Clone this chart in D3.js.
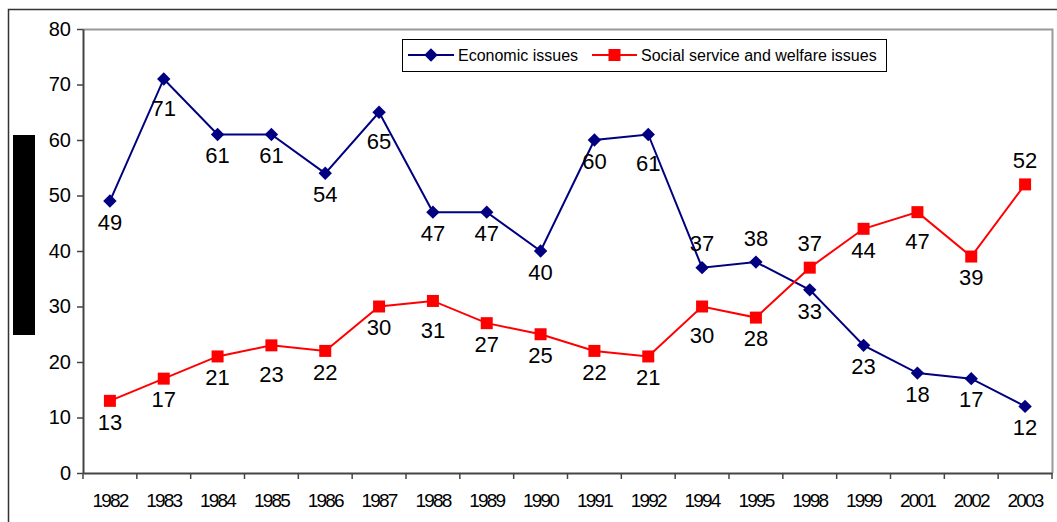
<!DOCTYPE html>
<html>
<head>
<meta charset="utf-8">
<script src="https://cdn.jsdelivr.net/npm/d3@7"></script>
<style>
  body { margin: 0; background: #fff; }
  svg { display: block; font-family: "Liberation Sans", Arial, sans-serif; }
</style>
</head>
<body>
<div id="chart"></div>
<script>
// data
var years = ["1982","1983","1984","1985","1986","1987","1988","1989","1990",
             "1991","1992","1994","1995","1998","1999","2001","2002","2003"];
var economic = [49,71,61,61,54,65,47,47,40,60,61,37,38,33,23,18,17,12];
var social   = [13,17,21,23,22,30,31,27,25,22,21,30,28,37,44,47,39,52];
// where each data label sits: "b" below the point, "a" above
var economicLabelPos = ["b","b","b","b","b","b","b","b","b","b","b","a","a","b","b","b","b","b"];
var socialLabelPos   = ["b","b","b","b","b","b","b","b","b","b","b","b","b","a","b","b","b","a"];
var yTicks = [0,10,20,30,40,50,60,70,80];

var width = 1057, height = 522;
var plot = {left: 83, right: 1052, top: 29, bottom: 473};

var svg = d3.select("#chart").append("svg")
    .attr("width", width)
    .attr("height", height);

// outer frame (left + top)
svg.append("path")
    .attr("d", "M8.5," + height + "V9.5H" + width)
    .attr("fill", "none")
    .attr("stroke", "#333")
    .attr("stroke-width", 1.5);

// black block on the left
svg.append("rect")
    .attr("x", 13).attr("y", 135)
    .attr("width", 22).attr("height", 200)
    .attr("fill", "#000");

var x = d3.scaleBand()
    .domain(years)
    .range([plot.left, plot.right]);

var y = d3.scaleLinear()
    .domain([0, 80])
    .range([plot.bottom, plot.top]);

// plot area border (top + right, gray)
svg.append("path")
    .attr("d", "M" + plot.left + "," + (plot.top + 0.5) + "H" + (plot.right + 0.5) + "V" + plot.bottom)
    .attr("fill", "none")
    .attr("stroke", "#999")
    .attr("stroke-width", 2);

// y axis
var yAxis = svg.append("g")
    .attr("transform", "translate(" + plot.left + ",0)")
    .call(d3.axisLeft(y).tickValues(yTicks).tickSize(6).tickPadding(6).tickSizeOuter(0));
yAxis.selectAll("text")
    .attr("font-size", "20px")
    .attr("font-family", "Liberation Sans, Arial, sans-serif")
    .attr("fill", "#000");

// x axis
var xAxis = svg.append("g")
    .attr("transform", "translate(0," + plot.bottom + ")")
    .call(d3.axisBottom(x).tickSize(0).tickPadding(21));
xAxis.selectAll("text")
    .attr("font-size", "19px")
    .attr("letter-spacing", "-1.8px")
    .attr("font-family", "Liberation Sans, Arial, sans-serif")
    .attr("fill", "#000");
// category boundary ticks
xAxis.selectAll(".bound")
    .data(years.concat(["end"]))
    .enter().append("line")
    .attr("class", "bound")
    .attr("x1", function(d, i) { return plot.left + i * x.step(); })
    .attr("x2", function(d, i) { return plot.left + i * x.step(); })
    .attr("y1", 0).attr("y2", 6)
    .attr("stroke", "#444").attr("stroke-width", 1.5);

svg.selectAll(".domain").attr("stroke", "#444").attr("stroke-width", 2);
yAxis.selectAll(".tick line").attr("stroke", "#444").attr("stroke-width", 1.5);

function cx(d, i) { return x(years[i]) + x.bandwidth() / 2; }

var line = d3.line()
    .x(function(d, i) { return cx(d, i); })
    .y(function(d) { return y(d); });

function drawSeries(values, color, symbolType, symbolSize, angle, labelPos) {
    svg.append("path")
        .datum(values)
        .attr("d", line)
        .attr("fill", "none")
        .attr("stroke", color)
        .attr("stroke-width", 2);

    svg.selectAll(null)
        .data(values)
        .enter().append("path")
        .attr("d", d3.symbol().type(symbolType).size(symbolSize))
        .attr("transform", function(d, i) {
            return "translate(" + cx(d, i) + "," + y(d) + ") rotate(" + angle + ")";
        })
        .attr("fill", color);

    svg.selectAll(null)
        .data(values)
        .enter().append("text")
        .attr("x", function(d, i) { return cx(d, i); })
        .attr("y", function(d, i) {
            if (labelPos[i] == "a") return y(d) - 24;
            var peak = i > 0 && i < values.length - 1 && values[i - 1] < d && values[i + 1] < d;
            return y(d) + (peak ? 29 : 21);
        })
        .attr("dy", "0.35em")
        .attr("text-anchor", "middle")
        .attr("font-size", "22px")
        .attr("fill", "#000")
        .text(function(d) { return d; });
}

drawSeries(economic, "#000080", d3.symbolSquare, 90, 45, economicLabelPos);
drawSeries(social, "#ff0000", d3.symbolSquare, 144, 0, socialLabelPos);

// legend
var legend = svg.append("g");
legend.append("rect")
    .attr("x", 402.5).attr("y", 39.5)
    .attr("width", 484).attr("height", 32)
    .attr("fill", "#fff")
    .attr("stroke", "#000")
    .attr("stroke-width", 1);

var legendItems = [
    {name: "Economic issues", color: "#000080", x1: 408, x2: 454, tx: 458, angle: 45, size: 90},
    {name: "Social service and welfare issues", color: "#ff0000", x1: 592, x2: 637, tx: 641, angle: 0, size: 144}
];
legendItems.forEach(function(it) {
    legend.append("line")
        .attr("x1", it.x1).attr("x2", it.x2)
        .attr("y1", 55).attr("y2", 55)
        .attr("stroke", it.color).attr("stroke-width", 2);
    legend.append("path")
        .attr("d", d3.symbol().type(d3.symbolSquare).size(it.size))
        .attr("transform", "translate(" + ((it.x1 + it.x2) / 2) + ",55) rotate(" + it.angle + ")")
        .attr("fill", it.color);
    legend.append("text")
        .attr("x", it.tx).attr("y", 55)
        .attr("dy", "0.35em")
        .attr("font-size", "16px")
        .attr("fill", "#000")
        .text(it.name);
});
</script>
</body>
</html>
